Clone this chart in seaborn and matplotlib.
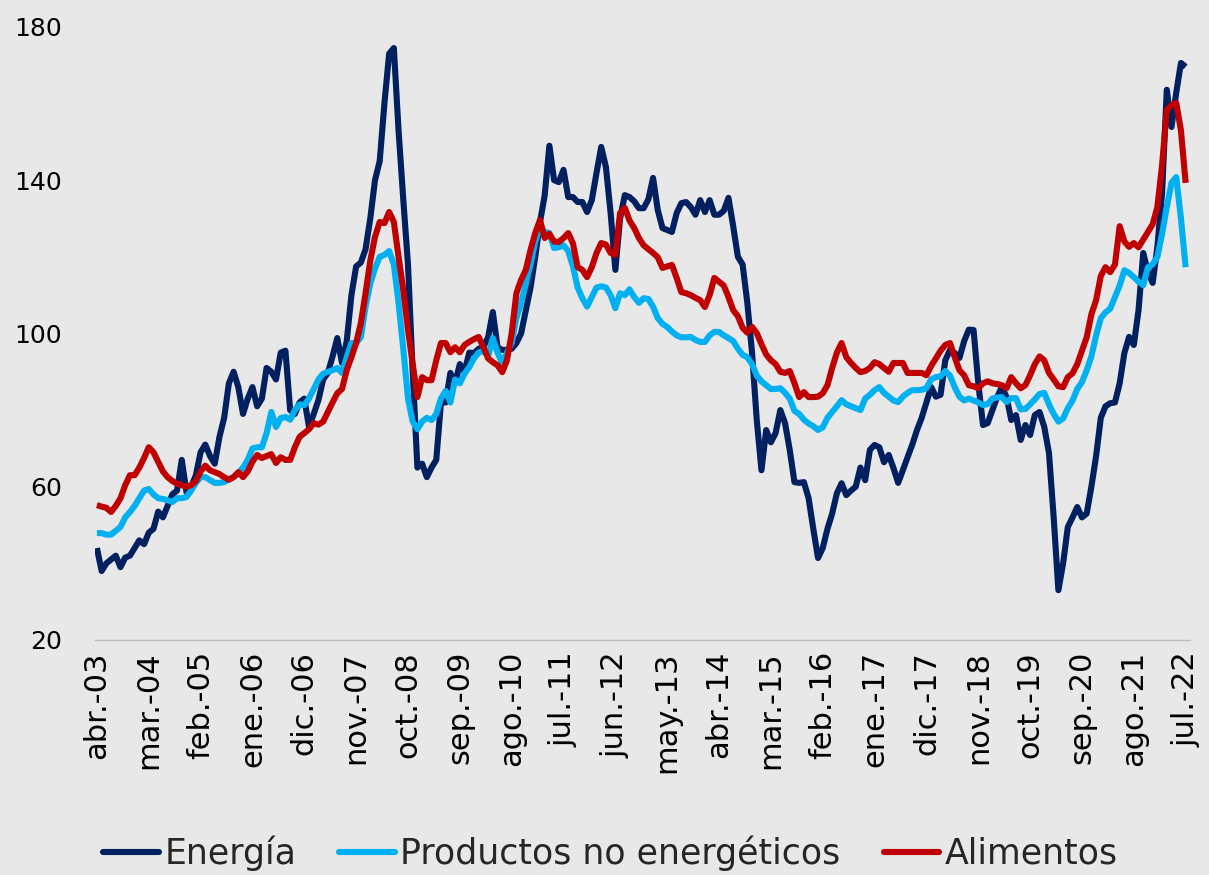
import numpy as np
import pandas as pd
import matplotlib
matplotlib.use("Agg")
import matplotlib.pyplot as plt
import seaborn as sns
from matplotlib.lines import Line2D

tick_labels = ["abr.-03", "mar.-04", "feb.-05", "ene.-06", "dic.-06", "nov.-07",
               "oct.-08", "sep.-09", "ago.-10", "jul.-11", "jun.-12", "may.-13",
               "abr.-14", "mar.-15", "feb.-16", "ene.-17", "dic.-17", "nov.-18",
               "oct.-19", "sep.-20", "ago.-21", "jul.-22"]

series_names = ["Energía", "Productos no energéticos", "Alimentos"]

energia = [
    44, 38, 40, 41, 42, 39, 41.5, 42, 44, 46,
    45, 48, 49, 53.5, 52, 55, 58, 59, 67, 58.6,
    60, 63, 69, 71, 68, 66, 73, 78, 87, 90,
    86, 79, 83, 86, 81, 83, 91, 90, 88, 95,
    95.5, 80, 79, 82, 83, 75.6, 79, 82.6, 88, 89.7,
    94, 98.8, 92.3, 98, 110, 117.5, 118.5, 122, 130, 140,
    145, 160, 173, 174.5, 153, 135, 118, 90, 65, 66,
    62.5, 65, 67, 82, 82, 89.7, 87, 92, 90, 95,
    94.9, 96, 96.5, 99, 105.6, 96.4, 95.7, 95.7, 96, 97.5,
    100, 106, 112, 120, 129, 136, 149, 140, 139.5, 142.7,
    135.6, 135.6, 134.3, 134.3, 131.7, 134.8, 141.9, 148.7, 143.4, 131.4,
    116.6, 130, 136.1, 135.6, 134.5, 132.7, 132.7, 135, 140.6, 132.2,
    127.5, 127, 126.5, 131.4, 134, 134.3, 133, 131, 134.8, 131.7,
    134.8, 131, 131, 132, 135.4, 128, 120, 118, 108, 95,
    77.4, 64.3, 74.8, 71.6, 74, 80, 76.6, 69.6, 61.2, 61,
    61.2, 57, 49, 41.4, 44, 49, 53, 58.3, 60.9, 57.8,
    59, 60, 65, 61.7, 69.6, 70.9, 70.3, 66.4, 68.3, 64.9,
    61, 64.3, 67.7, 71, 74.8, 78, 82, 86, 83.5, 84,
    93, 95.7, 94.9, 93.6, 98, 101, 100.9, 87, 76.1, 76.6,
    80, 83.4, 86, 83.4, 77.4, 78.7, 72.2, 76.1, 73.5, 78.7,
    79.5, 75.6, 68.8, 52, 33, 40, 49.5, 52, 54.7, 52,
    53, 60, 68, 78, 81, 81.8, 82, 87, 94.9, 99.1,
    97, 106, 121, 116, 113.2, 122.6, 136.7, 163.6, 153.9, 162.8,
    170.6, 169.6,
]

productos = [
    47.9, 47.9, 47.5, 47.5, 48.5, 49.5, 52, 53.4, 55, 57,
    59, 59.4, 58, 57, 56.8, 56.5, 56, 57, 57, 57.3,
    59, 61, 62.5, 62.5, 61.7, 61, 61, 61.2, 62, 62.5,
    63.5, 65, 67, 70, 70.3, 70.3, 74, 79.5, 75.6, 77.9,
    78.2, 77.5, 80, 81.5, 81.3, 83, 85.5, 88, 89.5, 90,
    90.4, 91, 89.7, 93.8, 97.5, 97.5, 99, 107, 113, 117,
    120, 120.5, 121.5, 118, 108, 96, 83, 77, 75, 77,
    78, 77.4, 79, 83, 85, 82, 88, 87, 89.5, 91.2,
    93.5, 95, 95.5, 94, 98.8, 95, 92.3, 95, 97.5, 104,
    108, 113, 118, 124, 127.8, 126.5, 126.2, 122.3, 122.5, 123,
    121.5, 117.5, 112, 109.2, 107, 109.5, 112, 112.3, 112, 110,
    106.6, 110.5, 110, 111.5, 109.5, 108, 109.2, 109, 107, 104,
    102.5, 101.7, 100.5, 99.5, 99, 99, 99.1, 98.3, 97.8, 97.8,
    99.5, 100.4, 100.4, 99.5, 98.8, 98, 96, 94.4, 93.8, 92,
    89, 87.5, 86.5, 85.5, 85.5, 85.7, 84.5, 83, 79.8, 79,
    77.5, 76.5, 75.8, 74.8, 75.5, 78, 79.5, 81, 82.6, 81.5,
    81, 80.5, 80, 83, 84, 85.2, 86, 84.5, 83.5, 82.5,
    82.1, 83.5, 84.5, 85.2, 85.2, 85.3, 85.7, 88, 88.6, 88.8,
    90.2, 89, 86, 83.5, 82.5, 83, 82.5, 82, 81.3, 81.6,
    83, 83.3, 83.4, 82.1, 83.1, 83.1, 80.2, 80.3, 81.5, 82.8,
    84.2, 84.5, 81.5, 79, 77, 77.8, 80.5, 82.5, 85.5, 87.3,
    90.4, 94, 99.5, 104, 105.5, 106.5, 109.5, 112.5, 116.5, 115.8,
    114.7, 113.5, 112.6, 117.3, 118, 120, 126, 133, 139.3, 140.8,
    130, 117.3,
]

alimentos = [
    55.2, 54.8, 54.5, 53.4, 55, 57, 60.4, 63, 63, 65,
    67.5, 70.3, 69, 66.5, 64, 62.5, 61.5, 60.8, 60.4, 60,
    60.4, 61.5, 64, 65.5, 64.3, 63.8, 63.3, 62.5, 61.8, 62.5,
    63.8, 62.5, 64, 66.5, 68.3, 67.5, 68, 68.5, 66.2, 67.7,
    67, 67, 70.3, 73, 74, 75, 76.6, 76.2, 77, 79.5,
    82, 84.4, 85.5, 90.4, 93.8, 97.5, 102.7, 110.5, 119, 125.2,
    129.1, 128.8, 131.7, 129.1, 120, 111.3, 101, 92, 83.4, 88.6,
    87.8, 87.8, 93, 97.5, 97.5, 95.1, 96.4, 95.1, 97, 97.8,
    98.5, 99.1, 96.5, 93.5, 92.5, 91.7, 89.9, 93, 100, 110.5,
    114, 116.6, 121.8, 126.2, 129.6, 124.9, 126, 124, 123.9, 124.9,
    126.2, 123.5, 117.3, 116.6, 114.7, 117.3, 121, 123.6, 123.2, 121,
    120.5, 131.4, 132.8, 129.5, 127.5, 124.9, 123, 122, 121, 119.9,
    117.1, 117.5, 117.9, 114.5, 110.8, 110.5, 110, 109.3, 108.7, 106.9,
    110, 114.5, 113.5, 112.5, 109.5, 106.1, 104.5, 101.5, 100.2, 101.7,
    100.1, 97.2, 94.5, 93, 92, 90, 89.7, 90.2, 87, 83.4,
    84.7, 83.4, 83.4, 83.5, 84.4, 86.5, 91, 95, 97.5, 93.8,
    92.3, 91, 89.9, 90.2, 91, 92.5, 92, 91, 90, 92.3,
    92.3, 92.3, 89.7, 89.7, 89.7, 89.7, 89.1, 91.5, 93.5, 95.5,
    97, 97.5, 93.8, 90.4, 89.1, 86.5, 86.2, 85.7, 87, 87.5,
    87, 86.8, 86.5, 85.7, 88.6, 87, 85.7, 86.5, 89.1, 92,
    94, 93, 89.7, 88, 86.2, 86, 88.6, 89.6, 92, 95.5,
    99, 105, 108.7, 115, 117.3, 116, 118, 128, 124, 122.6,
    123.6, 122.5, 124.5, 126.5, 128.5, 133, 144, 158.3, 159.6, 160.2,
    153, 139.3,
]

colors = {"Energía": "#002060", "Productos no energéticos": "#00B0F0",
          "Alimentos": "#C00000"}

n = len(energia)
assert n == len(productos) == len(alimentos) == 232
month = np.arange(n)
df = pd.DataFrame({
    "mes": np.concatenate([month, month, month]),
    "valor": energia + productos + alimentos,
    "serie": [series_names[0]] * n + [series_names[1]] * n + [series_names[2]] * n,
})

sns.set_theme(style="white")
plt.rcParams["font.family"] = ["DejaVu Sans"]
bg = "#E8E8E8"
fig = plt.figure(figsize=(12.09, 8.75), dpi=100, facecolor=bg)
ax = fig.add_axes([0.0786, 0.2686, 0.9054, 0.7006], facecolor=bg)

sns.lineplot(data=df, x="mes", y="valor", hue="serie", palette=colors,
             hue_order=series_names, linewidth=4.4, ax=ax, legend=False,
             solid_capstyle="butt")

ax.set_xlim(-0.4, 231.85)
ax.set_ylim(20, 180)
ax.set_yticks([20, 60, 100, 140, 180])
ax.set_xticks(np.arange(0, n, 11))
ax.set_xticklabels(tick_labels, rotation=90, fontsize=22, color="#000000")
ax.tick_params(axis="y", labelsize=18, pad=24, length=0, colors="#000000")
ax.tick_params(axis="x", pad=8, length=0)
ax.set_xlabel("")
ax.set_ylabel("")
for s in ["top", "right", "left"]:
    ax.spines[s].set_visible(False)
ax.spines["bottom"].set_color("#BFBFBF")
ax.spines["bottom"].set_linewidth(1)
ax.grid(False)

handles = [Line2D([0], [0], color=colors[s], lw=4.4) for s in series_names]
fig.legend(handles, series_names, loc="center", bbox_to_anchor=(0.505, 0.025),
           ncol=3, frameon=False, fontsize=25, handlelength=1.6,
           handletextpad=0.15, columnspacing=1.25)

fig.savefig("out.png", dpi=100, facecolor=bg)
